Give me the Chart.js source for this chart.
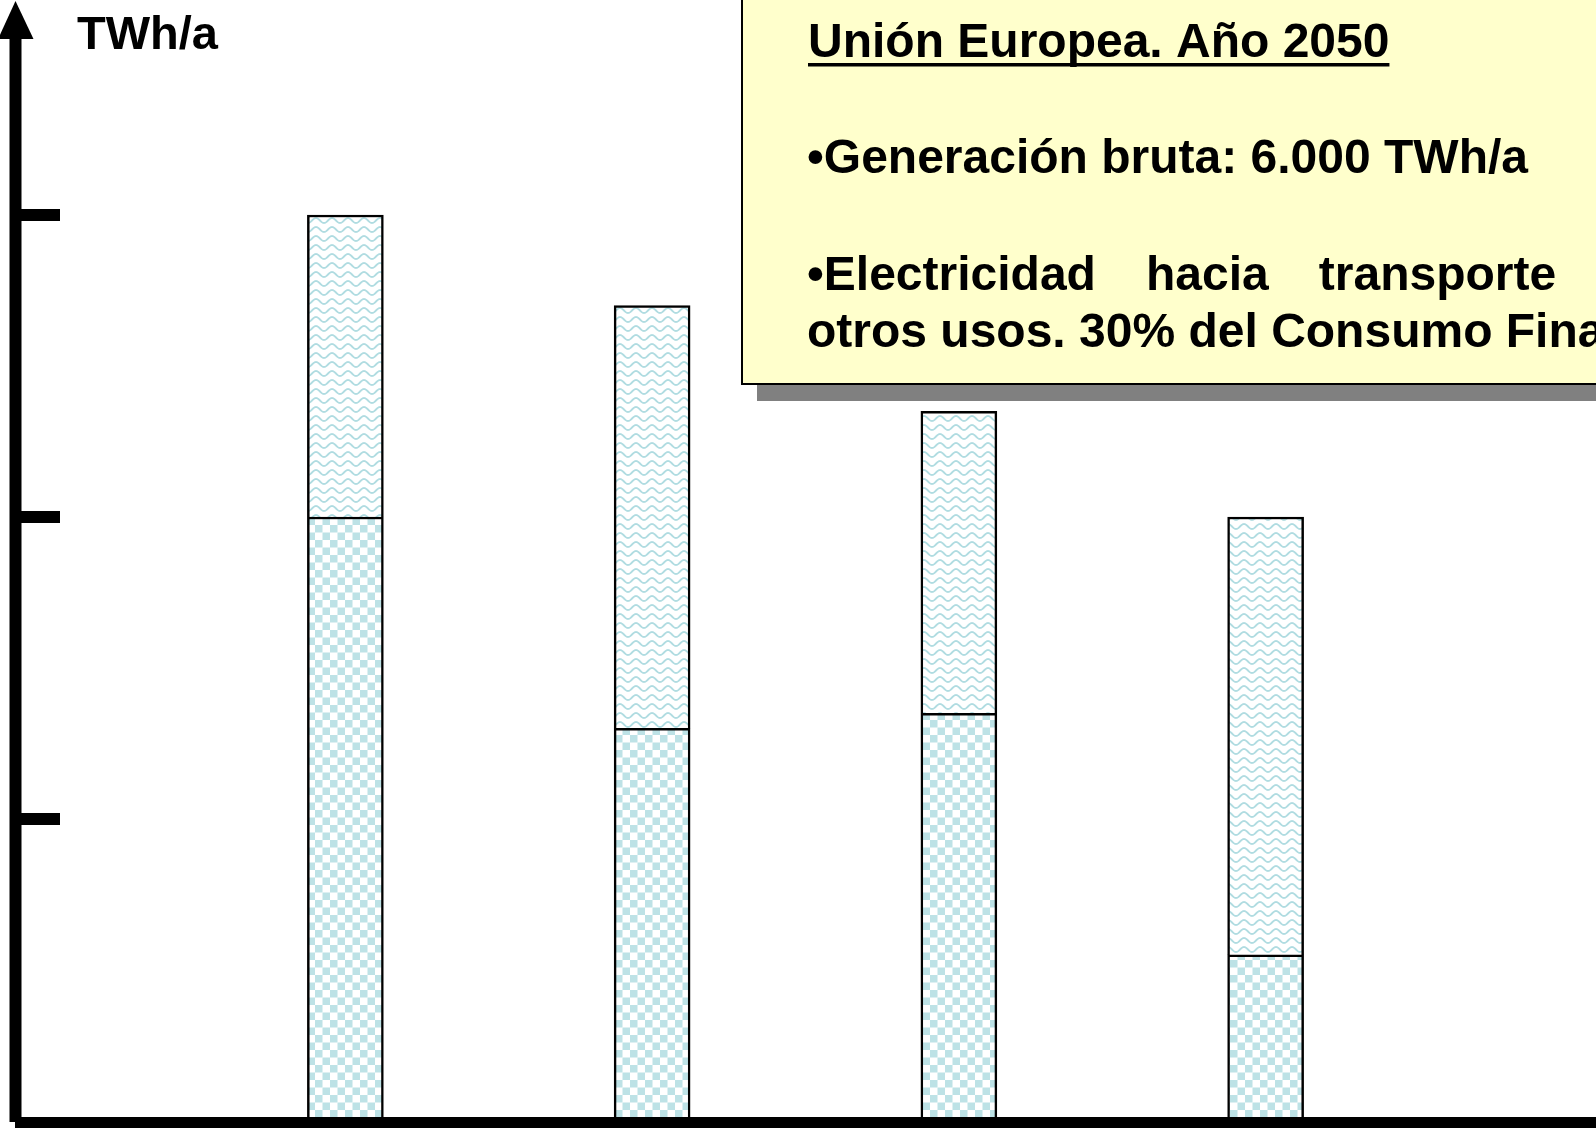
<!DOCTYPE html>
<html lang="es">
<head>
<meta charset="utf-8">
<title>Unión Europea. Año 2050 - TWh/a</title>
<script src="https://cdn.jsdelivr.net/npm/chart.js@4.4.1/dist/chart.umd.min.js"></script>
<style>
  html, body { margin: 0; padding: 0; background: #fff; overflow: hidden; }
  #wrap { width: 1596px; height: 1128px; }
</style>
</head>
<body>
<div id="wrap"><canvas id="grafico" width="1596" height="1128"></canvas></div>
<script>
// Barras sin rótulo de categoría
const categorias = ['1', '2', '3', '4'];
// TWh/a: tramo inferior (cuadros) y tramo superior (ondas)
const tramoInferior = [4000, 2600, 2700, 1100];
const tramoSuperior = [2000, 2800, 2000, 2900];
// Marcas del eje vertical (sin cifras)
const marcasEje = [2000, 4000, 6000];

const unidad = 'TWh/a';
const tituloCaja = 'Unión Europea. Año 2050';
const lineaGeneracion = '•Generación bruta: 6.000 TWh/a';
const lineaJustificada = '•Electricidad hacia transporte y';
const lineaFinal = 'otros usos. 30% del Consumo Final';

const FUENTE = 'bold 48px "Liberation Sans", Arial, sans-serif';

function patronCuadros(ctx) {
  const c = document.createElement('canvas');
  c.width = 15; c.height = 15;
  const g = c.getContext('2d');
  g.fillStyle = '#ffffff';
  g.fillRect(0, 0, 15, 15);
  g.fillStyle = '#bde2e6';
  g.fillRect(0, 0, 7.5, 7.5);
  g.fillRect(7.5, 7.5, 7.5, 7.5);
  return ctx.createPattern(c, 'repeat');
}

function patronOndas(ctx) {
  const c = document.createElement('canvas');
  c.width = 16; c.height = 9;
  const g = c.getContext('2d');
  g.fillStyle = '#ffffff';
  g.fillRect(0, 0, 16, 9);
  g.strokeStyle = '#b0dce1';
  g.lineWidth = 1.8;
  g.beginPath();
  for (let x = -1; x <= 17; x += 0.5) {
    const y = 4.5 + 2.5 * Math.sin(2 * Math.PI * x / 16);
    if (x === -1) g.moveTo(x, y); else g.lineTo(x, y);
  }
  g.stroke();
  return ctx.createPattern(c, 'repeat');
}

// Ejes negros gruesos con flecha y marcas hacia dentro
const ejes = {
  id: 'ejes',
  afterDatasetsDraw(chart) {
    const ctx = chart.ctx;
    const y = chart.scales.y;
    const y0 = y.getPixelForValue(0);
    ctx.save();
    ctx.fillStyle = '#000';
    ctx.fillRect(9.5, 36, 12, y0 + 1 - 36);
    ctx.beginPath();
    ctx.moveTo(15.5, 1);
    ctx.lineTo(33.5, 39);
    ctx.lineTo(-2, 39);
    ctx.closePath();
    ctx.fill();
    ctx.fillRect(15, y0 - 4, chart.width, 11);
    marcasEje.forEach(v => {
      const py = y.getPixelForValue(v);
      ctx.fillRect(21, py - 6, 39, 12);
    });
    ctx.restore();
  }
};

// Unidad y cuadro de texto con sombra
const textos = {
  id: 'textos',
  afterDraw(chart) {
    const ctx = chart.ctx;
    ctx.save();
    ctx.fillStyle = '#000';
    ctx.textBaseline = 'alphabetic';
    ctx.font = 'bold 47px "Liberation Sans", Arial, sans-serif';
    ctx.fillText(unidad, 77, 49);

    ctx.fillStyle = '#808080';
    ctx.fillRect(757, -10, 1000, 411);
    ctx.fillStyle = '#ffffcc';
    ctx.fillRect(741, -10, 1000, 395);
    ctx.strokeStyle = '#000';
    ctx.lineWidth = 2;
    ctx.strokeRect(742, -10, 1000, 394);

    const x0 = 807;
    ctx.fillStyle = '#000';
    ctx.font = FUENTE;
    ctx.fillText(tituloCaja, x0 + 1, 57);
    ctx.fillRect(x0 + 1, 63, ctx.measureText(tituloCaja).width, 3.5);

    ctx.fillText(lineaGeneracion, x0, 173);

    // párrafo justificado: espacios repartidos hasta el margen derecho
    const anchoColumna = 826;
    const palabras = lineaJustificada.split(' ');
    const anchos = palabras.map(p => ctx.measureText(p).width);
    const hueco = (anchoColumna - anchos.reduce((a, b) => a + b, 0)) / (palabras.length - 1);
    let x = x0;
    palabras.forEach((p, i) => {
      ctx.fillText(p, x, 290);
      x += anchos[i] + hueco;
    });
    ctx.fillText(lineaFinal, x0, 347);
    ctx.restore();
  }
};

const ctx = document.getElementById('grafico').getContext('2d');

new Chart(ctx, {
  type: 'bar',
  data: {
    labels: categorias,
    datasets: [
      {
        label: 'Tramo inferior',
        data: tramoInferior,
        backgroundColor: patronCuadros(ctx),
        borderColor: '#000',
        borderWidth: 2.5,
        barThickness: 76
      },
      {
        label: 'Tramo superior',
        data: tramoSuperior,
        backgroundColor: patronOndas(ctx),
        borderColor: '#000',
        borderWidth: 2.5,
        barThickness: 76
      }
    ]
  },
  options: {
    responsive: false,
    animation: false,
    events: [],
    layout: { padding: { left: 192, right: 177, top: 64, bottom: 7 } },
    scales: {
      x: { stacked: true, display: false },
      y: { stacked: true, display: false, min: 0, max: 7000 }
    },
    plugins: {
      legend: { display: false },
      tooltip: { enabled: false }
    }
  },
  plugins: [ejes, textos]
});
</script>
</body>
</html>
